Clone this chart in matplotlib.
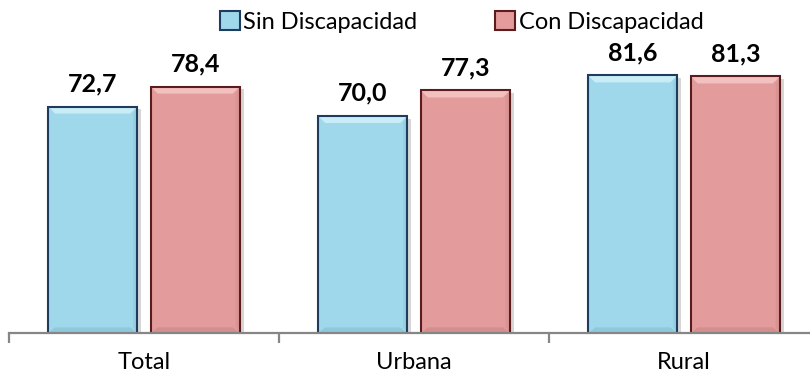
import matplotlib
matplotlib.use("Agg")
import matplotlib.pyplot as plt
import matplotlib.patheffects as pe
from matplotlib.patches import Polygon, Patch

categories = ["Total", "Urbana", "Rural"]
series_names = ["Sin Discapacidad", "Con Discapacidad"]
sin_disc = [72.7, 70.0, 81.6]
con_disc = [78.4, 77.3, 81.3]

plt.rcParams['font.family'] = ['Lato', 'DejaVu Sans']

W, H = 810, 379
fig = plt.figure(figsize=(W / 100, H / 100), dpi=100)
ax_h_px = 293
px_per_unit = 3.5
ymin = 8
ax = fig.add_axes([9 / W, 46 / H, 810 / W, ax_h_px / H])
ax.set_xlim(-0.5, 2.5)
ax.set_ylim(ymin, ymin + ax_h_px / px_per_unit)

fills = ['#9ED8EA', '#E39B9B']
edges = ['#1F3B5E', '#5A1C1C']
lights = ['#C8EDF7', '#F1C0BF']
darks = ['#8FC8DA', '#D38F8E']
offsets = [-0.19, 0.19]
width = 0.33

# bevel size in data units (about 7 px on each axis)
bx = 7 / 270
by = 7 / px_per_unit

shadow = [pe.SimplePatchShadow(offset=(3, -2), shadow_rgbFace='black', alpha=0.16),
          pe.Normal()]

for s, values in enumerate([sin_disc, con_disc]):
    xs = [i + offsets[s] for i in range(len(categories))]
    ax.bar(xs, values, width=width, color=fills[s], edgecolor='none',
           zorder=2, path_effects=shadow)
    for x, v in zip(xs, values):
        x0, x1 = x - width / 2, x + width / 2
        # top highlight
        ax.add_patch(Polygon([(x0, v), (x1, v), (x1 - bx, v - by), (x0 + bx, v - by)],
                             closed=True, facecolor=lights[s], edgecolor='none', zorder=2.5))
        # bottom shade
        ax.add_patch(Polygon([(x0, ymin), (x1, ymin), (x1 - bx, ymin + by * 0.8),
                              (x0 + bx, ymin + by * 0.8)],
                             closed=True, facecolor=darks[s], edgecolor='none', zorder=2.5))
        # side shade
        ax.add_patch(Polygon([(x1, v), (x1, ymin), (x1 - bx * 0.6, ymin + by * 0.8),
                              (x1 - bx * 0.6, v - by)],
                             closed=True, facecolor=darks[s], edgecolor='none', zorder=2.5,
                             alpha=0.5))
        ax.annotate(f"{v:.1f}".replace('.', ','), (x, v), xytext=(0, 8),
                    textcoords='offset points', ha='center', va='bottom',
                    fontsize=18, fontweight='bold', color='black')
    ax.bar(xs, values, width=width, facecolor='none', edgecolor=edges[s],
           linewidth=1.5, zorder=3)

for side in ['left', 'top', 'right']:
    ax.spines[side].set_visible(False)
ax.spines['bottom'].set_color('#868686')
ax.spines['bottom'].set_linewidth(1.6)
ax.spines['bottom'].set_zorder(4)
ax.set_yticks([])
ax.set_xticks(range(len(categories)))
ax.set_xticklabels(categories, fontsize=17)
ax.tick_params(axis='x', which='major', length=0, pad=14)
ax.set_xticks([-0.5, 0.5, 1.5, 2.5], minor=True)
ax.tick_params(axis='x', which='minor', length=7, width=1.6, color='#868686')

handles = [Patch(facecolor=fills[i], edgecolor=edges[i], linewidth=1.5)
           for i in range(2)]
fig.legend(handles, series_names, loc='center', bbox_to_anchor=(0.57, 0.942),
           ncol=2, frameon=False, fontsize=17, handlelength=0.85,
           handleheight=0.85, handletextpad=0.15, columnspacing=3.3)

fig.savefig('out.png', dpi=100)
